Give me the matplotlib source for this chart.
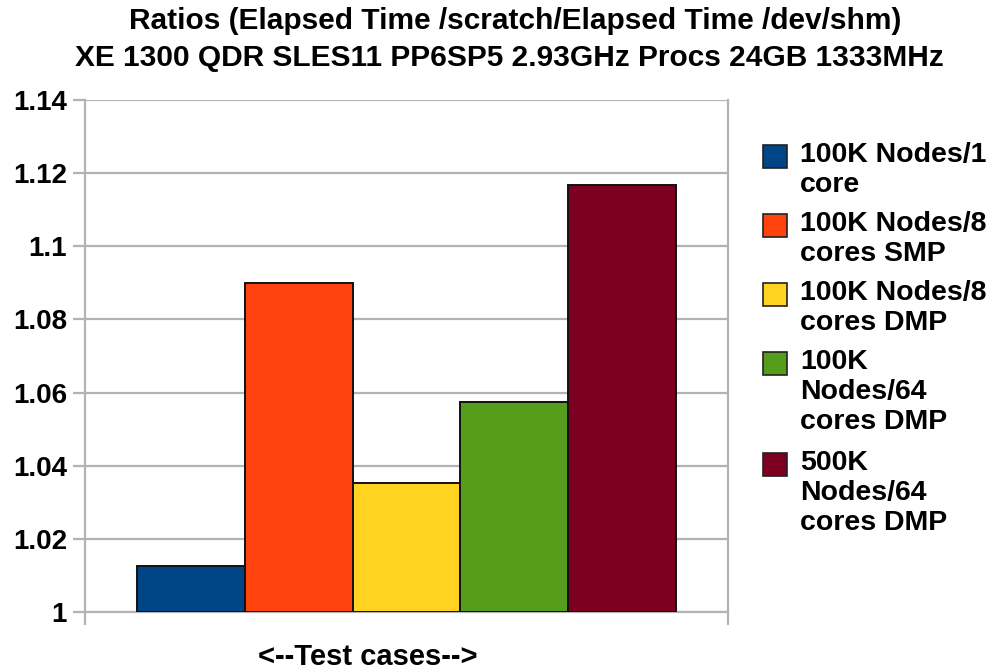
import matplotlib
matplotlib.use('Agg')
import matplotlib.pyplot as plt
from matplotlib.patches import Rectangle
from matplotlib.ticker import FuncFormatter

plt.rcParams['font.family'] = ['Liberation Sans', 'DejaVu Sans']

labels = ['100K Nodes/1\ncore', '100K Nodes/8\ncores SMP', '100K Nodes/8\ncores DMP',
          '100K\nNodes/64\ncores DMP', '500K\nNodes/64\ncores DMP']
ratios = [1.0126, 1.0900, 1.0354, 1.0573, 1.1167]
colors = ['#004586', '#ff420e', '#ffd320', '#579d1c', '#7e0021']
yticks = [1.0, 1.02, 1.04, 1.06, 1.08, 1.1, 1.12, 1.14]

W, H = 995, 670
fig = plt.figure(figsize=(W / 100, H / 100), dpi=100)
ax = fig.add_axes([85 / W, 1 - 612 / H, (728 - 85) / W, (612 - 100) / H])

grey = '#b3b3b3'
bw = 0.838 / len(ratios)
for i, (v, c) in enumerate(zip(ratios, colors)):
    x = (i - (len(ratios) - 1) / 2) * bw
    ax.bar(x, v - 1.0, bottom=1.0, width=bw, color=c, edgecolor='#111111',
           linewidth=1.4, zorder=3)

ax.set_xlim(-0.5, 0.5)
ax.set_ylim(1.0, 1.14)
ax.set_yticks(yticks)
ax.yaxis.set_major_formatter(FuncFormatter(lambda v, p: '%g' % v))
ax.set_xticks([-0.5, 0.5])
ax.set_xticklabels([])
ax.grid(axis='y', color=grey, linewidth=1.6, zorder=0)
ax.tick_params(axis='y', length=9, width=1.6, color=grey, labelsize=20, pad=4)
for t in ax.get_yticklabels():
    t.set_fontweight('bold')
ax.tick_params(axis='x', length=9, width=1.6, color=grey)
for s in ['left', 'right', 'bottom']:
    ax.spines[s].set_color(grey)
    ax.spines[s].set_linewidth(1.6)
ax.spines['top'].set_visible(False)

fig.text(515 / W, 1 - 21 / H, 'Ratios (Elapsed Time /scratch/Elapsed Time /dev/shm)',
         ha='center', va='center', fontsize=21.5, fontweight='bold')
fig.text(509 / W, 1 - 58 / H, 'XE 1300 QDR SLES11 PP6SP5 2.93GHz Procs 24GB 1333MHz',
         ha='center', va='center', fontsize=21.5, fontweight='bold')
fig.text(368 / W, 1 - 657 / H, '<--Test cases-->', ha='center', va='center',
         fontsize=21, fontweight='bold')

# legend drawn by hand so the swatch sits on the first line
ytop = 145
for lab, c in zip(labels, colors):
    fig.patches.append(Rectangle((763 / W, 1 - (ytop + 23) / H), 24 / W, 23 / H,
                                 transform=fig.transFigure, facecolor=c,
                                 edgecolor='#222222', linewidth=1.2))
    fig.text(800 / W, 1 - (ytop - 3) / H, lab, ha='left', va='top', fontsize=20.5,
             fontweight='bold', linespacing=1.2)
    ytop += 32 * lab.count('\n') + 32 + 5

fig.savefig('out.png', dpi=100)
